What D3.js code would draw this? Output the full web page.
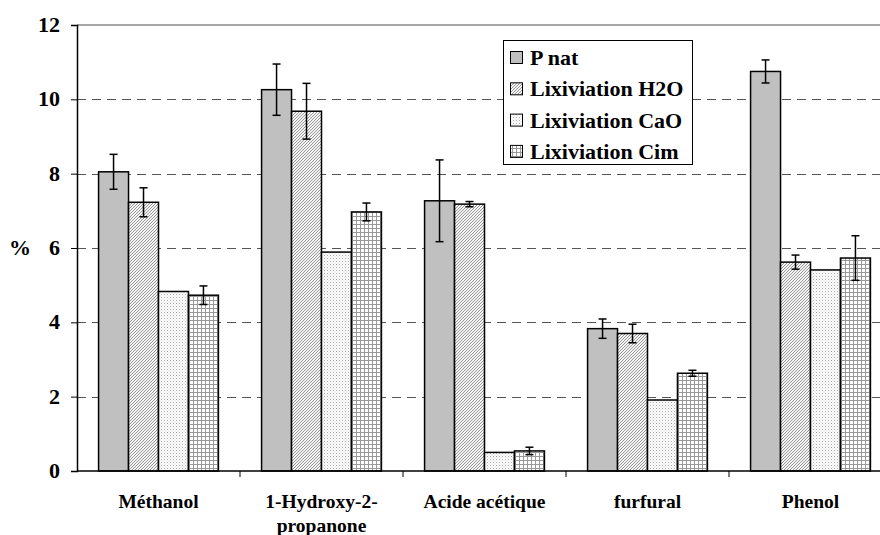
<!DOCTYPE html>
<html><head><meta charset="utf-8">
<script src="https://cdn.jsdelivr.net/npm/d3@7"></script>
</head><body style="margin:0">
<svg id="c" width="880" height="535"></svg>
<script>
const categories = ["Méthanol", "1-Hydroxy-2-\npropanone", "Acide acétique", "furfural", "Phenol"];
const seriesNames = ["P nat", "Lixiviation H2O", "Lixiviation CaO", "Lixiviation Cim"];
const pNat = [8.05, 10.26, 7.27, 3.83, 10.75];
const lixH2O = [7.23, 9.68, 7.18, 3.70, 5.62];
const lixCaO = [4.83, 5.89, 0.50, 1.91, 5.41];
const lixCim = [4.73, 6.97, 0.54, 2.63, 5.73];
const errPNat = [0.47, 0.69, 1.10, 0.26, 0.31];
const errH2O = [0.39, 0.75, 0.07, 0.25, 0.19];
const errCaO = [0, 0, 0, 0, 0];
const errCim = [0.25, 0.24, 0.10, 0.08, 0.60];
const yTicks = [0, 2, 4, 6, 8, 10, 12];

const values = [pNat, lixH2O, lixCaO, lixCim];
const errs = [errPNat, errH2O, errCaO, errCim];

const svg = d3.select("#c");
const L = 77, R = 892, T = 25, B = 471;
function lbl(sel){ return sel.attr("font-family","Liberation Serif").style("font-family","Liberation Serif").attr("font-weight","bold").attr("fill","#000"); }

const defs = svg.append("defs");
const p1 = defs.append("pattern").attr("id","pH2O").attr("patternUnits","userSpaceOnUse").attr("width",3).attr("height",3);
p1.append("rect").attr("width",3).attr("height",3).attr("fill","#f4f4f4");
p1.append("path").attr("d","M0,3 L3,0 M-1,1 L1,-1 M2,4 L4,2").attr("stroke","#808080").attr("stroke-width",0.8);
const p2 = defs.append("pattern").attr("id","pCaO").attr("patternUnits","userSpaceOnUse").attr("width",3).attr("height",3);
p2.append("rect").attr("width",3).attr("height",3).attr("fill","#fff");
p2.append("rect").attr("x",0).attr("y",0).attr("width",1).attr("height",1).attr("fill","#aaa");
p2.append("rect").attr("x",1.5).attr("y",1.5).attr("width",1).attr("height",1).attr("fill","#ccc");
const p3 = defs.append("pattern").attr("id","pCim").attr("patternUnits","userSpaceOnUse").attr("width",4).attr("height",4);
p3.append("rect").attr("width",4).attr("height",4).attr("fill","#fff");
p3.append("path").attr("d","M0,0.5 H4 M0.5,0 V4").attr("stroke","#999").attr("stroke-width",1);
const fills = ["#c0c0c0", "url(#pH2O)", "url(#pCaO)", "url(#pCim)"];

const y = d3.scaleLinear().domain([0, 12]).range([B, T]);
const x0 = d3.scaleBand().domain(categories).range([L, R]).paddingInner(0).paddingOuter(0);
const x1 = d3.scaleBand().domain(d3.range(4)).range([0, x0.bandwidth()]).paddingOuter(0.72).paddingInner(0);

svg.append("line").attr("x1",L).attr("x2",R).attr("y1",T).attr("y2",T).attr("stroke","#888").attr("stroke-width",1.5);
svg.append("g").selectAll("line").data(yTicks.filter(t => t>0 && t<12)).join("line")
  .attr("x1",L).attr("x2",R).attr("y1",d=>Math.round(y(d))+0.5).attr("y2",d=>Math.round(y(d))+0.5)
  .attr("stroke","#555").attr("stroke-width",1.2).attr("stroke-dasharray","9,6");

const groups = svg.append("g").selectAll("g").data(categories).join("g")
  .attr("transform", d => `translate(${x0(d)},0)`);
groups.each(function(c, ci){
  const g = d3.select(this);
  for (let s = 0; s < 4; s++) {
    const v = values[s][ci];
    g.append("rect").attr("x", x1(s)).attr("y", y(v)).attr("width", x1.bandwidth()).attr("height", B - y(v))
      .attr("fill", fills[s]).attr("stroke","#000").attr("stroke-width",1.5);
  }
  for (let s = 0; s < 4; s++) {
    const v = values[s][ci], e = errs[s][ci];
    if (e <= 0) continue;
    const cx = x1(s) + x1.bandwidth()/2;
    g.append("line").attr("x1",cx).attr("x2",cx).attr("y1",y(v+e)).attr("y2",y(v-e)).attr("stroke","#000").attr("stroke-width",1.5);
    [v+e, v-e].forEach(t => g.append("line").attr("x1",cx-4).attr("x2",cx+4).attr("y1",y(t)).attr("y2",y(t)).attr("stroke","#000").attr("stroke-width",1.5));
  }
});

// y axis
const yAxis = d3.axisLeft(y).tickValues(yTicks).tickSize(6).tickFormat(d3.format("d"));
const ya = svg.append("g").attr("transform",`translate(${L},0)`).call(yAxis);
ya.attr("font-family",null).attr("font-size",null);
ya.select(".domain").attr("stroke","#000").attr("stroke-width",1.5);
ya.selectAll(".tick line").attr("stroke","#000").attr("stroke-width",1);
ya.selectAll(".tick text").remove();
lbl(svg.append("g").selectAll("text").data(yTicks).join("text")
  .attr("x", 60).attr("y", d => y(d) + 7).attr("text-anchor","end").attr("font-size",22).text(d => d));

// x axis
const xa = svg.append("g").attr("transform",`translate(0,${B})`);
xa.append("line").attr("x1",L).attr("x2",R).attr("y1",0).attr("y2",0).attr("stroke","#000").attr("stroke-width",1.5);
xa.selectAll("line.tk").data(categories.slice(1)).join("line").attr("class","tk")
  .attr("x1",d=>x0(d)).attr("x2",d=>x0(d)).attr("y1",0).attr("y2",6).attr("stroke","#000");
lbl(xa.selectAll("text").data(categories).join("text")
  .attr("x", d => x0(d) + x0.bandwidth()/2).attr("y", 37).attr("text-anchor","middle").attr("font-size",19.5))
  .each(function(d){
    const lines = d.split("\n");
    d3.select(this).selectAll("tspan").data(lines).join("tspan")
      .attr("x", x0(d) + x0.bandwidth()/2).attr("dy",(l,i)=> i===0?0:24).text(l=>l);
  });

lbl(svg.append("text").attr("x",9).attr("y",255).attr("font-size",22)).text("%");

const lg = svg.append("g");
lg.append("rect").attr("x",503.5).attr("y",40.5).attr("width",189).attr("height",124).attr("fill","#fff").attr("stroke","#000").attr("stroke-width",1);
seriesNames.forEach((n,i)=>{
  const cy = 58 + i*31.3;
  lg.append("rect").attr("x",510.5).attr("y",cy-6.5).attr("width",12).attr("height",12).attr("fill",fills[i]).attr("stroke","#000").attr("stroke-width",1);
  lbl(lg.append("text").attr("x",530).attr("y",cy+7).attr("font-size",22)).text(n);
});
</script>
</body></html>
